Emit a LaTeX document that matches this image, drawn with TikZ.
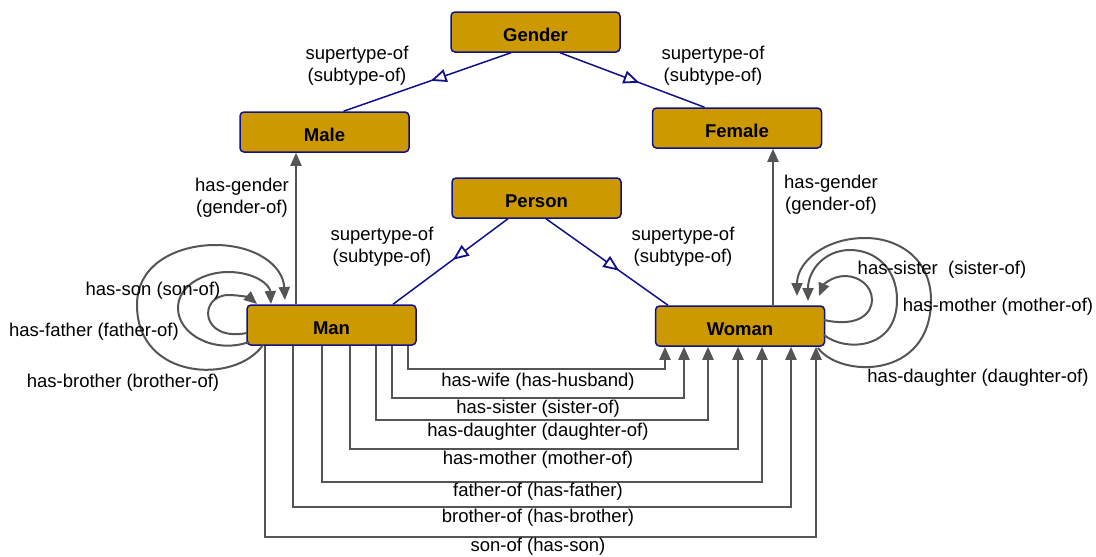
\documentclass[tikz,border=0pt]{standalone}
\usepackage{fontspec}
\setmainfont{Liberation Sans}
\usetikzlibrary{arrows.meta,decorations.markings}
\definecolor{boxfill}{HTML}{CC9900}
\definecolor{navyline}{HTML}{10108A}
\definecolor{grayline}{HTML}{555555}
\begin{document}
\begin{tikzpicture}[x=1pt,y=-1pt,
  cls/.style={draw=navyline, line width=1.5pt, fill=boxfill, rounded corners=4pt, minimum width=169pt, minimum height=40pt, inner sep=0pt, text height=18pt, text depth=0pt, font=\fontsize{18.5}{22}\selectfont\bfseries},
  lbl/.style={font=\fontsize{18.5}{22}\selectfont, align=center, inner sep=0pt},
  rel/.style={draw=grayline, line width=2pt, -{Triangle[length=13pt,width=11pt]}},
  sub/.style={draw=navyline, line width=1.5pt, postaction=decorate, decoration={markings, mark=at position #1 with {\arrow[line width=1.8pt]{Triangle[length=16pt,width=13pt,fill=white]}}}},
]
\useasboundingbox (0,0) rectangle (1096,557);

% classes
\node[cls] (gender) at (535.5,32) {Gender};
\node[cls] (male) at (324.5,132) {Male};
\node[cls] (female) at (737,128) {Female};
\node[cls] (person) at (536.5,198) {Person};
\node[cls] (man) at (331.5,325) {Man};
\node[cls] (woman) at (740,326) {Woman};

% x positions of connector ends
\coordinate (g1) at (511,0);
\coordinate (g2) at (560,0);
\coordinate (m1) at (343.5,0);
\coordinate (f1) at (704.5,0);
\coordinate (p1) at (508,0);
\coordinate (p2) at (546,0);
\coordinate (n1) at (393,0);
\coordinate (w1) at (668,0);
\coordinate (hg1) at (296,0);
\coordinate (hg2) at (773,0);

% subtype relations
\draw[sub=0.48] (gender.south -| g1) -- (male.north -| m1);
\draw[sub=0.55] (gender.south -| g2) -- (female.north -| f1);
\draw[sub=0.48] (person.south -| p1) -- (man.north -| n1);
\draw[sub=0.60] (person.south -| p2) -- (woman.north -| w1);

\node[lbl] at (357,66) {supertype-of\\(subtype-of)};
\node[lbl] at (713,66) {supertype-of\\(subtype-of)};
\node[lbl] at (382,247) {supertype-of\\(subtype-of)};
\node[lbl] at (683,247) {supertype-of\\(subtype-of)};

% has-gender
\draw[rel] (man.north -| hg1) -- (male.south -| hg1);
\draw[rel] (woman.north -| hg2) -- (female.south -| hg2);
\node[lbl] at (242,198) {has-gender\\(gender-of)};
\node[lbl] at (831,195) {has-gender\\(gender-of)};

% Man self loops
\coordinate (ml1) at (247,333);
\coordinate (ml2) at (249,342);
\coordinate (ml3) at (263,345);
\coordinate (me1) at (257,304);
\coordinate (me2) at (271,304);
\coordinate (me3) at (285,300);
\draw[rel] (ml1) .. controls (200,342) and (198,296) .. (228,295) .. controls (240,295) and (250,298) .. (me1);
\draw[rel] (ml2) .. controls (215,354) and (178,335) .. (178,308) .. controls (178,285) and (205,272) .. (228,272) .. controls (255,272) and (270,285) .. (me2);
\draw[rel] (ml3) .. controls (235,385) and (137,380) .. (137,305) .. controls (137,262) and (180,245) .. (215,245) .. controls (255,245) and (283,265) .. (me3);
\node[lbl] at (153,291) {has-son (son-of)};
\node[lbl] at (94,332) {has-father (father-of)};
\node[lbl] at (123,383) {has-brother (brother-of)};

% Woman self loops
\coordinate (wl1) at (824,320);
\coordinate (wl2) at (824,335);
\coordinate (wl3) at (818,348);
\coordinate (we1) at (819,296);
\coordinate (we2) at (808,301);
\coordinate (we3) at (797,296);
\draw[rel] (wl1) .. controls (860,328) and (872,312) .. (872,300) .. controls (872,285) and (858,276) .. (845,276) .. controls (833,276) and (824,284) .. (we1);
\draw[rel] (wl2) .. controls (845,352) and (897,350) .. (897,300) .. controls (897,268) and (875,250) .. (850,250) .. controls (825,250) and (808,270) .. (we2);
\draw[rel] (wl3) .. controls (840,378) and (931,380) .. (931,300) .. controls (931,260) and (900,238) .. (865,238) .. controls (825,238) and (797,262) .. (we3);
\node[lbl] at (942,270) {has-sister\ \ (sister-of)};
\node[lbl] at (998,307) {has-mother (mother-of)};
\node[lbl] at (978,378) {has-daughter (daughter-of)};

% Man -> Woman relations
\coordinate (a1) at (408,369); \coordinate (b1) at (665,369);
\coordinate (a2) at (392,398); \coordinate (b2) at (684,398);
\coordinate (a3) at (376,420); \coordinate (b3) at (708,420);
\coordinate (a4) at (350,449); \coordinate (b4) at (738,449);
\coordinate (a5) at (322,482); \coordinate (b5) at (762,482);
\coordinate (a6) at (293,507); \coordinate (b6) at (791,507);
\coordinate (a7) at (265,537); \coordinate (b7) at (816,537);
\foreach \i in {1,...,7}{
  \draw[rel] (man.south -| a\i) -- (a\i) -- (b\i) -- (woman.south -| b\i);
}
\node[lbl] at (538,382) {has-wife (has-husband)};
\node[lbl] at (538,409) {has-sister (sister-of)};
\node[lbl] at (538,432) {has-daughter (daughter-of)};
\node[lbl] at (538,460) {has-mother (mother-of)};
\node[lbl] at (538,492) {father-of (has-father)};
\node[lbl] at (538,518) {brother-of (has-brother)};
\node[lbl] at (538,547) {son-of (has-son)};
\end{tikzpicture}
\end{document}
